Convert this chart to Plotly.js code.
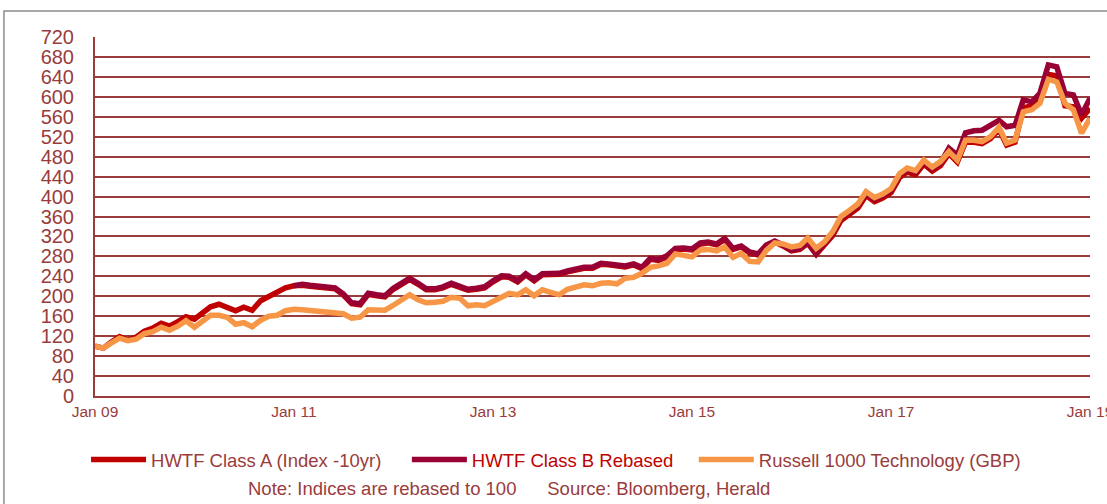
<!DOCTYPE html>
<html>
<head>
<meta charset="utf-8">
<script src="https://cdn.plot.ly/plotly-3.0.1.min.js"></script>
<style>html,body{margin:0;padding:0;background:#fff;}#chart{width:1107px;height:504px;}</style>
</head>
<body>
<div id="chart"></div>
<script>
// Monthly observations, Jan 2009 .. Jan 2019
var startYear = 2009, monthCount = 121;
var months = [];
for (var i = 0; i < monthCount; i++) {
  var y = startYear + Math.floor(i / 12), m = (i % 12) + 1;
  months.push(y + '-' + (m < 10 ? '0' + m : m) + '-01');
}

var seriesNames = ['HWTF Class A (Index -10yr)', 'HWTF Class B Rebased', 'Russell 1000 Technology (GBP)'];
var xTickLabels = ['Jan 09', 'Jan 11', 'Jan 13', 'Jan 15', 'Jan 17', 'Jan 19'];
var xTickDates = ['2009-01-01', '2011-01-01', '2013-01-01', '2015-01-01', '2017-01-01', '2019-01-01'];
var yTicks = [0,40,80,120,160,200,240,280,320,360,400,440,480,520,560,600,640,680,720];

var classA = [
  100, 96, 108, 119, 112, 118, 130, 136, 146, 140, 149, 159,
  154, 167, 179, 184, 178, 171, 178, 172, 191, 199, 206, 217,
  221, 222, 220, 219, 217, 215, 203, 185, 183, 204, 201, 199,
  214, 226, 234, 224, 213, 213, 217, 224, 219, 212, 214, 217,
  229, 239, 238, 229, 243, 231, 243, 243, 244, 249, 253, 256,
  256, 264, 263, 261, 259, 263, 256, 274, 272, 279, 294, 295,
  293, 305, 307, 303, 314, 294, 299, 287, 283, 301, 309, 301,
  291, 294, 306, 284, 301, 322, 352, 364, 377, 402, 390, 397,
  408, 438, 449, 444, 465, 451, 462, 486, 469, 509, 509, 506,
  516, 535, 503, 509, 578, 582, 595, 645, 642, 582, 580, 557,
  577
];

var classB = [
  null, null, null, null, null, null, null, null, null, null, null, null,
  null, null, null, null, null, null, null, null, null, null, null, null,
  221, 224, 222, 221, 219, 217, 205, 187, 185, 206, 203, 201,
  216, 228, 236, 226, 215, 215, 219, 226, 221, 214, 216, 219,
  231, 241, 240, 231, 245, 233, 245, 245, 246, 251, 255, 258,
  258, 266, 265, 263, 261, 265, 258, 276, 274, 281, 296, 297,
  295, 307, 309, 305, 316, 296, 301, 289, 285, 303, 311, 303,
  293, 296, 308, 286, 306, 327, 357, 369, 382, 406, 395, 402,
  413, 443, 454, 449, 470, 456, 467, 497, 483, 528, 532, 533,
  543, 553, 540, 543, 594, 590, 607, 664, 660, 607, 604, 564,
  597
];

var russell = [
  100, 96, 106, 116, 111, 114, 125, 129, 138, 132, 140, 151,
  138, 151, 162, 162, 158, 144, 147, 139, 152, 160, 162, 171,
  174, 173, 171, 169, 168, 167, 165, 156, 158, 173, 172, 172,
  182, 194, 203, 193, 187, 188, 190, 198, 196, 181, 183, 181,
  190, 200, 206, 203, 213, 201, 213, 208, 203, 214, 218, 223,
  221, 226, 227, 225, 236, 238, 246, 258, 261, 266, 285, 281,
  279, 293, 294, 291, 299, 278, 286, 270, 269, 292, 307, 305,
  299, 302, 317, 296, 309, 330, 360, 372, 385, 410, 398, 405,
  416, 446, 457, 452, 473, 459, 470, 490, 473, 513, 513, 510,
  520, 539, 507, 513, 570, 574, 587, 635, 630, 587, 574, 527,
  557
];

var axisCol = '#993C3C';
var textCol = '#993C3C';
var fontFam = 'Liberation Sans, Arial, sans-serif';
var padA = '&nbsp;&nbsp;&nbsp;&nbsp;';
var padB = '&nbsp;&nbsp;&nbsp;';

var traces = [
  {x: months, y: classA, name: seriesNames[0] + padA, type: 'scatter', mode: 'lines',
   line: {color: '#C00000', width: 5.5, shape: 'linear'}},
  {x: months, y: classB, name: '<span style="color:#C00000">' + seriesNames[1] + '</span>' + padB, type: 'scatter', mode: 'lines',
   line: {color: '#990033', width: 5.5}},
  {x: months, y: russell, name: seriesNames[2], type: 'scatter', mode: 'lines',
   line: {color: '#F79646', width: 5.5}}
];

var layout = {
  width: 1107, height: 504,
  margin: {l: 95, r: 17, t: 37, b: 108},
  paper_bgcolor: '#ffffff', plot_bgcolor: '#ffffff',
  font: {family: fontFam, color: textCol},
  showlegend: true,
  legend: {orientation: 'h', x: -0.009, xanchor: 'left', y: -0.178, yanchor: 'middle',
    font: {size: 18.5, color: textCol, family: fontFam}, itemwidth: 55, traceorder: 'normal'},
  xaxis: {type: 'date', range: ['2009-01-01', '2019-01-01'], tickvals: xTickDates, ticktext: xTickLabels,
    showgrid: false, zeroline: false, showline: true, linecolor: axisCol, linewidth: 2,
    ticks: '', tickfont: {size: 15.5, color: textCol, family: fontFam}, ticklabeloverflow: 'allow',
    fixedrange: true},
  yaxis: {range: [0, 720], tickvals: yTicks, showgrid: true, gridcolor: axisCol, gridwidth: 2,
    zeroline: false, showline: true, linecolor: axisCol, linewidth: 2, ticks: '',
    ticklabelstandoff: 15, tickfont: {size: 20, color: textCol, family: fontFam}, fixedrange: true},
  shapes: [
    {type: 'rect', xref: 'paper', yref: 'paper', x0: -0.0915, x1: 1.03, y0: -0.35, y1: 1.0724,
     line: {color: '#8C8C8C', width: 1.5}, fillcolor: 'rgba(0,0,0,0)', layer: 'below'}
  ],
  annotations: [
    {xref: 'paper', yref: 'paper', x: 0.416, y: -0.259, xanchor: 'center', yanchor: 'middle', showarrow: false,
     text: 'Note: Indices are rebased to 100&nbsp;&nbsp;&nbsp;&nbsp;&nbsp;&nbsp;Source: Bloomberg, Herald',
     font: {size: 18.5, color: textCol, family: fontFam}}
  ]
};

Plotly.newPlot('chart', traces, layout, {displayModeBar: false, staticPlot: true});
</script>
</body>
</html>
